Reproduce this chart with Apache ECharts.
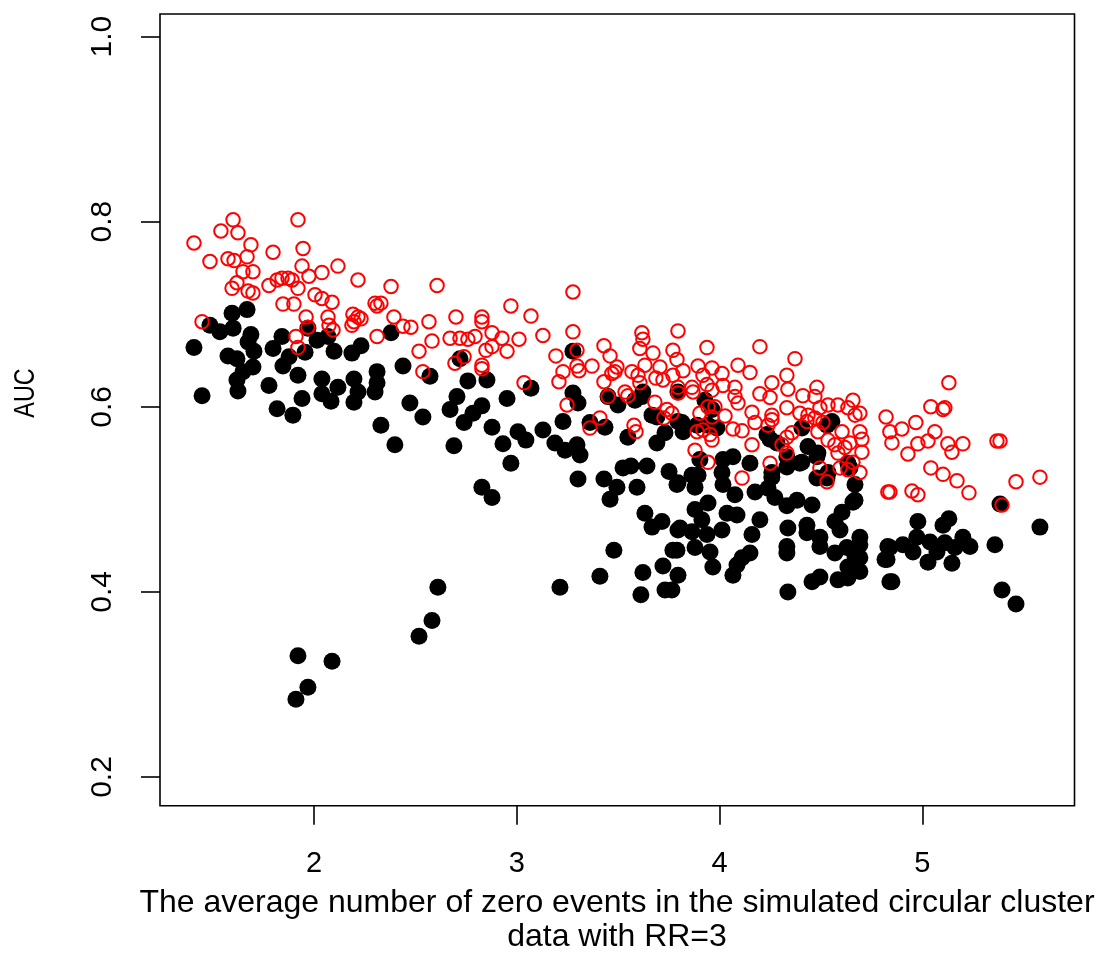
<!DOCTYPE html>
<html>
<head>
<meta charset="utf-8">
<script src="https://cdn.jsdelivr.net/npm/echarts@6.0.0/dist/echarts.min.js"></script>
<style>
html,body{margin:0;padding:0;background:#fff;}
#chart{width:1102px;height:960px;}
</style>
</head>
<body>
<div id="chart"></div>
<script>
// Black filled points (x: average number of zero events, y: AUC)
var blackX = [1.408,1.487,1.536,1.596,1.670,1.601,1.689,1.675,1.704,1.576,
1.620,1.699,1.650,1.620,1.625,1.448,1.778,1.798,1.842,1.877,
1.847,1.921,1.818,1.896,1.941,1.956,1.970,2.015,2.069,2.099,
2.039,2.039,2.084,2.118,2.187,2.232,2.197,2.217,2.197,2.311,
2.311,2.301,2.380,2.439,2.330,2.399,2.473,2.690,2.611,2.582,
2.518,1.921,2.089,1.970,1.911,2.572,3.277,2.720,2.759,2.853,
3.070,2.537,2.671,2.705,2.952,2.828,2.784,2.740,2.878,3.006,
3.045,3.129,3.228,3.277,3.302,3.499,3.583,3.617,3.361,3.435,
3.548,2.932,3.188,3.297,2.971,3.238,3.312,2.828,2.878,3.302,
3.430,3.494,3.460,3.563,3.524,3.642,3.593,3.751,3.790,3.632,
3.716,3.667,3.795,3.479,3.770,3.213,3.410,3.622,3.721,3.795,
3.612,3.731,3.765,3.450,3.691,3.731,3.691,3.815,3.622,3.667,
3.795,3.928,3.963,3.795,3.820,3.889,3.987,4.234,4.283,4.332,
4.406,4.554,4.436,4.480,4.017,4.066,4.150,3.903,
3.894,4.012,4.258,4.396,4.535,4.633,3.943,4.249,4.530,4.485,3.864,
3.879,3.795,4.017,4.076,4.175,4.258,4.239,4.273,4.332,4.382,
4.456,4.480,4.530,4.406,4.332,4.668,4.668,4.604,3.879,3.943,
3.913,4.037,4.086,4.199,4.160,3.805,3.864,3.938,4.012,4.337,
4.431,4.431,4.495,4.594,4.569,4.692,3.879,3.953,3.790,3.967,
4.086,4.150,4.111,4.332,4.332,4.495,4.569,4.628,4.692,4.668,
4.633,4.692,4.584,4.633,4.456,4.495,4.066,
4.337,4.830,4.816,4.840,4.643,4.658,5.383,4.978,5.102,5.131,4.973,4.904,4.840,4.954,4.826,5.038,5.072,5.028,5.111,5.161,5.200,5.235,5.146,4.850,5.358,5.580,5.393,5.462,
4.692];
var blackY = [.664,.688,.681,.701,.705,.685,.678,.670,.660,.655,
.652,.643,.638,.629,.617,.612,.623,.663,.676,.654,
.644,.634,.598,.591,.609,.659,.685,.672,.676,.660,
.630,.614,.606,.621,.658,.666,.630,.616,.605,.638,
.626,.616,.680,.644,.580,.559,.604,.558,.405,.369,
.352,.331,.325,.297,.284,.633,.660,.652,.628,.629,
.620,.589,.597,.611,.609,.601,.593,.583,.578,.573,
.564,.575,.584,.615,.604,.602,.607,.611,.583,.578,
.567,.560,.561,.559,.539,.553,.548,.513,.502,.522,
.522,.513,.500,.536,.534,.536,.513,.530,.516,.485,
.476,.470,.467,.445,.445,.405,.417,.421,.428,.418,
.397,.402,.402,.611,.589,.572,.561,.583,.616,.591,
.616,.607,.597,.584,.573,.580,.577,.570,.561,.546,
.577,.584,.557,.546,.543,.546,.539,.543,
.526,.529,.529,.539,.529,.539,.580,.565,.580,.550,.526,
.513,.518,.516,.505,.508,.524,.512,.502,.493,.499,
.494,.523,.523,.540,.535,.516,.499,.486,.489,.496,
.478,.485,.483,.478,.462,.469,.465,.462,.467,.469,
.472,.464,.459,.467,.476,.459,.448,.443,.445,.427,
.429,.442,.437,.449,.442,.449,.442,.448,.451,.438,
.427,.422,.413,.415,.411,.416,.418,
.400,.449,.435,.411,.534,.497,.495,.476,.472,.479,.459,.451,.448,.443,.435,.454,.443,.432,.453,.448,.459,.449,.431,.411,.451,.470,.402,.387,
.437];

// Red open points
var redX = [1.408,1.541,1.601,1.625,1.689,1.487,1.576,1.606,1.670,1.650,
1.699,1.620,1.596,1.675,1.699,1.798,1.921,1.946,1.941,1.975,
2.039,2.118,1.778,1.818,1.842,1.872,1.892,1.921,1.847,1.901,
2.005,2.039,2.089,2.217,2.380,2.301,2.330,2.311,1.961,2.069,
2.192,2.217,2.232,2.187,2.197,2.394,1.448,1.970,2.074,2.094,
1.911,1.921,2.311,2.439,2.478,2.518,2.607,3.277,2.971,3.070,
2.700,2.828,2.828,2.567,3.277,2.878,3.129,2.582,2.671,2.720,
2.759,2.794,2.927,3.011,2.878,2.848,2.952,3.193,3.297,3.430,
3.460,2.695,2.740,2.828,2.828,3.371,3.297,3.307,3.228,3.208,
3.494,3.484,3.568,3.598,3.617,3.607,3.469,3.430,2.537,3.036,
3.450,3.534,3.548,3.248,3.410,3.361,3.578,3.588,3.607,3.632,
3.672,3.706,3.686,3.721,3.770,3.790,3.770,3.795,3.681,3.741,
3.765,3.726,3.795,3.622,3.938,4.199,4.372,3.820,3.894,3.963,
4.012,4.091,4.150,4.332,3.918,3.864,3.938,4.017,4.076,4.258,
4.337,4.480,3.795,3.869,3.963,4.199,4.249,4.411,4.470,4.076,
4.091,3.943,3.977,4.332,4.160,4.258,4.396,4.436,4.495,4.535,
4.584,4.633,3.903,3.963,4.027,4.175,4.239,4.258,4.066,4.111,
3.889,3.918,3.953,3.963,4.431,4.470,4.510,4.485,4.357,4.332,
4.308,4.535,4.604,4.569,4.618,4.584,4.160,3.879,4.332,3.943,
4.249,4.495,4.594,4.633,4.111,4.668,4.530,4.692,4.830,5.131,
5.042,5.102,5.111,4.821,4.658,4.692,4.840,4.899,4.968,5.062,
5.028,4.978,4.850,4.929,4.692,4.702,4.643,4.702,5.126,5.200,
5.146,5.368,5.383,5.042,5.102,5.171,5.230,5.462,5.580,4.840,
4.949,4.978,4.658,5.393];
var redY = [.777,.790,.802,.788,.775,.757,.760,.758,.762,.746,
.746,.734,.728,.725,.723,.767,.802,.771,.752,.741,
.745,.752,.731,.737,.739,.739,.737,.728,.711,.711,
.721,.717,.713,.737,.730,.712,.712,.709,.697,.697,
.700,.697,.695,.688,.692,.697,.692,.686,.688,.683,
.676,.664,.676,.687,.686,.660,.731,.724,.709,.698,
.697,.697,.692,.692,.681,.680,.677,.671,.674,.674,
.673,.676,.674,.673,.665,.661,.660,.655,.661,.666,
.655,.647,.654,.645,.641,.644,.644,.639,.638,.627,
.643,.638,.638,.634,.680,.663,.636,.627,.638,.626,
.611,.616,.612,.602,.588,.577,.580,.573,.626,.645,
.658,.643,.631,.629,.661,.651,.634,.621,.605,.597,
.593,.588,.682,.673,.664,.665,.652,.639,.644,.642,
.636,.645,.637,.634,.634,.621,.624,.623,.621,.626,
.619,.621,.615,.616,.618,.614,.610,.612,.611,.611,
.604,.600,.600,.599,.594,.591,.593,.591,.599,.602,
.602,.599,.593,.589,.590,.583,.580,.586,.576,.574,
.573,.575,.570,.564,.584,.588,.583,.573,.572,.567,
.559,.564,.573,.559,.556,.550,.559,.553,.550,.540,
.539,.534,.534,.532,.523,.591,.519,.529,.508,.626,
.600,.597,.599,.589,.607,.593,.573,.576,.583,.573,
.563,.560,.561,.549,.573,.565,.561,.551,.560,.560,
.551,.563,.563,.534,.527,.520,.507,.519,.524,.508,
.509,.505,.540,.494];

var xTicks = [2, 3, 4, 5];
var yTicks = [0.2, 0.4, 0.6, 0.8, 1.0];
var yTickLabels = ['0.2', '0.4', '0.6', '0.8', '1.0'];
var xTitleLines = ['The average number of zero events in the simulated circular cluster', 'data with RR=3'];
var yTitle = 'AUC';

var FONT = '"Liberation Sans", Arial, Helvetica, sans-serif';

function pairs(xs, ys) { return xs.map(function (x, i) { return [x, ys[i]]; }); }

var chart = echarts.init(document.getElementById('chart'), null, { renderer: 'canvas' });
chart.setOption({
  animation: false,
  backgroundColor: '#ffffff',
  grid: { left: 160, right: 27.5, top: 14, bottom: 154.3, show: true, borderColor: '#000', borderWidth: 1.6, backgroundColor: 'transparent' },
  xAxis: {
    type: 'value', min: 1.2406, max: 5.7505,
    axisLine: { show: false },
    splitLine: { show: false },
    axisTick: { show: true, length: 19, customValues: xTicks, lineStyle: { color: '#000', width: 1.6 } },
    axisLabel: { customValues: xTicks, fontSize: 29, color: '#000', fontFamily: FONT, margin: 44 }
  },
  yAxis: {
    type: 'value', min: 0.169, max: 1.0244,
    axisLine: { show: false },
    splitLine: { show: false },
    axisTick: { show: true, length: 19, customValues: yTicks, lineStyle: { color: '#000', width: 1.6 } },
    axisLabel: { customValues: yTicks, rotate: 90, fontSize: 30, color: '#000', fontFamily: FONT, margin: 42,
      formatter: function (v) { var i = yTicks.findIndex(function (t) { return Math.abs(t - v) < 1e-6; }); return i >= 0 ? yTickLabels[i] : ''; } }
  },
  series: [
    { type: 'scatter', name: 'black', data: pairs(blackX, blackY), symbol: 'circle', symbolSize: 17,
      itemStyle: { color: '#000', opacity: 1 }, silent: true, z: 2 },
    { type: 'scatter', name: 'red', data: pairs(redX, redY), symbol: 'circle', symbolSize: 13.5,
      itemStyle: { color: 'rgba(0,0,0,0)', borderColor: '#ff0000', borderWidth: 2, opacity: 1 }, silent: true, z: 3 }
  ],
  graphic: [
    { type: 'text', x: 617, y: 903, silent: true,
      style: { text: xTitleLines[0], font: '32px ' + FONT, fill: '#000', align: 'center', verticalAlign: 'middle', textAlign: 'center', textVerticalAlign: 'middle' } },
    { type: 'text', x: 617, y: 937, silent: true,
      style: { text: xTitleLines[1], font: '32px ' + FONT, fill: '#000', align: 'center', verticalAlign: 'middle', textAlign: 'center', textVerticalAlign: 'middle' } },
    { type: 'text', x: 26, y: 393, rotation: Math.PI / 2, scaleX: 0.78, silent: true,
      style: { text: yTitle, font: '30px ' + FONT, fill: '#000', align: 'center', verticalAlign: 'middle', textAlign: 'center', textVerticalAlign: 'middle' } }
  ]
});
</script>
</body>
</html>
